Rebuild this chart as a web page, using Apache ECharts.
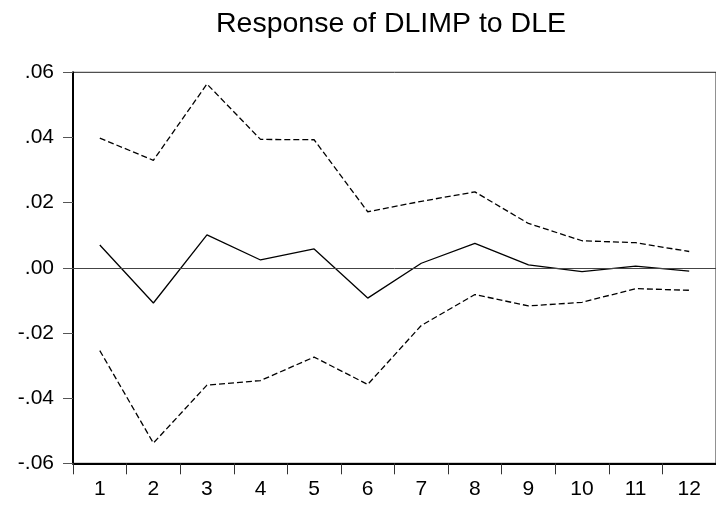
<!DOCTYPE html>
<html>
<head>
<meta charset="utf-8">
<script src="https://cdn.jsdelivr.net/npm/echarts@6/dist/echarts.min.js"></script>
<style>html,body{margin:0;padding:0;background:#fff;}#c{width:716px;height:507px;}</style>
</head>
<body>
<div id="c"></div>
<script>
var categories = ['1','2','3','4','5','6','7','8','9','10','11','12'];
var response = [0.0070, -0.0108, 0.0101, 0.0024, 0.0058, -0.0093, 0.0014, 0.0075, 0.0009, -0.0012, 0.0005, -0.0010];
var upperBand = [0.0398, 0.0330, 0.0564, 0.0394, 0.0393, 0.0172, 0.0204, 0.0233, 0.0136, 0.0083, 0.0077, 0.0050];
var lowerBand = [-0.0254, -0.0538, -0.0360, -0.0346, -0.0274, -0.0358, -0.0177, -0.0082, -0.0117, -0.0106, -0.0064, -0.0069];
var yTicks = [-0.06, -0.04, -0.02, 0.00, 0.02, 0.04, 0.06];
var titleText = 'Response of DLIMP to DLE';

var FONT = 'Liberation Sans, Arial, sans-serif';
function fmt(v){
  var s = Math.abs(v).toFixed(2).replace(/^0/, '');
  return (v < -1e-9 ? '-' : '') + s;
}
var chart = echarts.init(document.getElementById('c'), null, {renderer:'canvas'});
chart.setOption({
  animation: false,
  backgroundColor: '#ffffff',
  graphic: [{
    type: 'text', x: 391, y: 24,
    style: {text: titleText, font: '28.5px ' + FONT, fill: '#000', textAlign: 'center', textVerticalAlign: 'middle'}
  }],
  grid: {left: 73, top: 72.3, width: 651.6, height: 391, show: true, borderColor: '#222', borderWidth: 1, backgroundColor: 'transparent'},
  xAxis: {
    type: 'category', data: categories, boundaryGap: true,
    axisLine: {onZero: false, lineStyle: {color: '#000', width: 2}},
    axisTick: {show: true, length: 11, lineStyle: {color: '#333', width: 1}},
    axisLabel: {color: '#000', fontSize: 21, fontFamily: FONT, margin: 15, interval: 0},
    splitLine: {show: false}
  },
  yAxis: {
    type: 'value', min: yTicks[0], max: yTicks[yTicks.length-1], interval: 0.02,
    axisLine: {show: true, onZero: false, lineStyle: {color: '#000', width: 2}},
    axisTick: {show: true, length: 10, lineStyle: {color: '#555', width: 1}},
    axisLabel: {color: '#000', fontSize: 21, fontFamily: FONT, margin: 19, formatter: fmt},
    splitLine: {show: false}
  },
  series: [
    {type: 'line', data: upperBand, symbol: 'none', lineStyle: {color: '#000', width: 1.3, type: [6,3]}, z: 3},
    {type: 'line', data: lowerBand, symbol: 'none', lineStyle: {color: '#000', width: 1.3, type: [6,3]}, z: 3},
    {type: 'line', data: response, symbol: 'none', lineStyle: {color: '#000', width: 1.3}, z: 4,
     markLine: {silent: true, symbol: 'none', label: {show: false}, lineStyle: {color: '#444', width: 1, type: 'solid'}, data: [{yAxis: 0}]}}
  ]
});
</script>
</body>
</html>
